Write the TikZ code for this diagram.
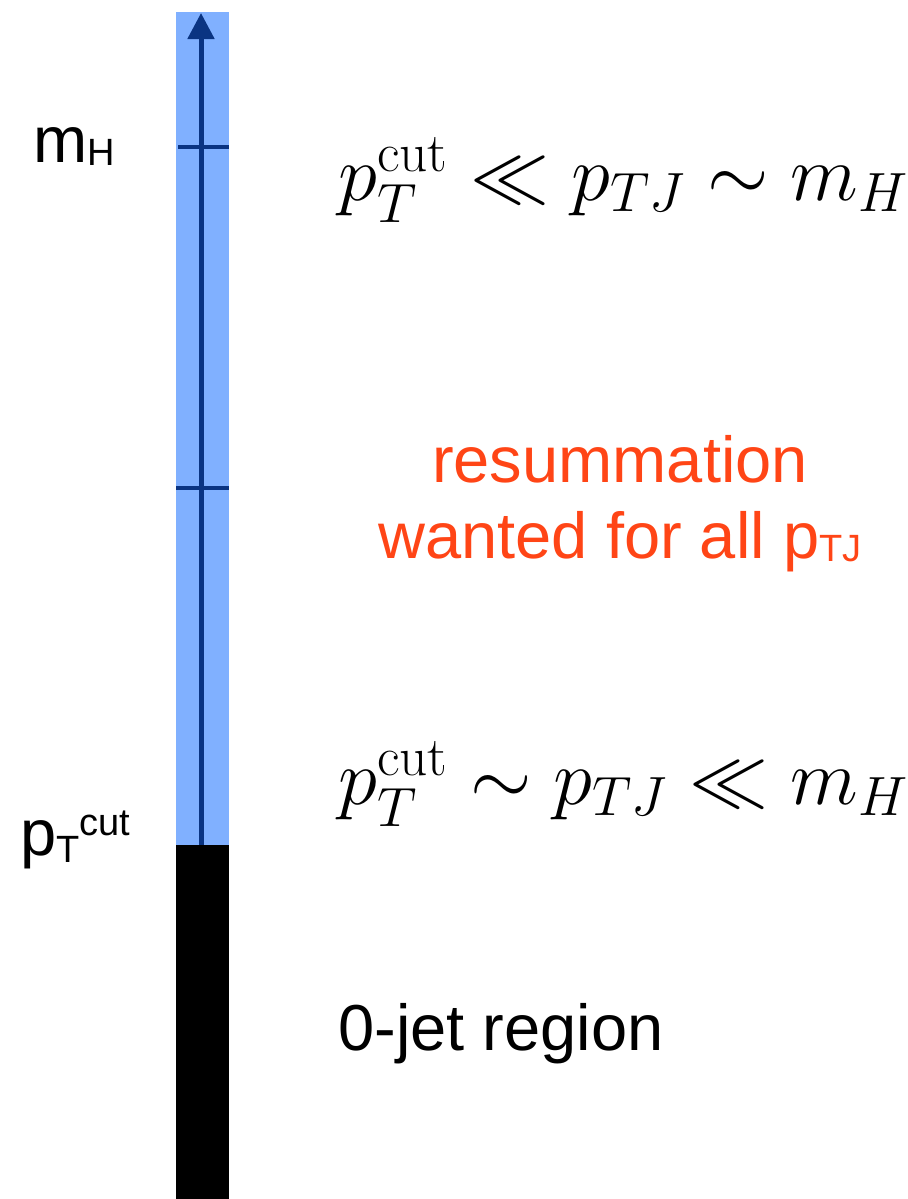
\RequirePackage{fix-cm}
\documentclass[tikz,border=0pt]{standalone}
\usepackage{fontspec}
\usepackage{amsmath,amssymb}
\newfontfamily\arial{Liberation Sans}
\usetikzlibrary{arrows.meta}
\definecolor{barblue}{RGB}{128,176,255}
\definecolor{axisblue}{RGB}{10,52,130}
\definecolor{resred}{RGB}{255,69,22}
\tikzset{
  sanslabel/.style={inner sep=0pt, anchor=base west, font=\arial\fontsize{32.5pt}{38pt}\selectfont},
  mathlabel/.style={inner sep=0pt, anchor=base west, font=\fontsize{39.5pt}{45pt}\selectfont},
  tickline/.style={axisblue, line width=2pt},
}
\begin{document}
\begin{tikzpicture}[x=0.5pt,y=-0.5pt]
\useasboundingbox (0,0) rectangle (908,1199);
\fill[barblue] (176,12) rectangle (229,845);
\fill[black] (176,845) rectangle (229,1199);
\coordinate (bot) at (201,845);
\coordinate (top) at (201,13);
\coordinate (t1l) at (178,147);
\coordinate (t1r) at (229,147);
\coordinate (t2l) at (176,488);
\coordinate (t2r) at (229,488);
\draw[axisblue, line width=2.5pt, -{Triangle[length=13pt,width=13pt]}] (bot) -- (top);
\draw[tickline] (t1l) -- (t1r);
\draw[tickline] (t2l) -- (t2r);
\node[sanslabel] (mH) at (33,162) {m\raisebox{-1.5pt}{\fontsize{19pt}{20pt}\selectfont H}};
\node[sanslabel] (ptcut) at (20,855) {p\raisebox{-3.5pt}{\fontsize{19pt}{20pt}\selectfont T}\raisebox{10pt}{\fontsize{19pt}{20pt}\selectfont cut}};
\node[mathlabel] (e1) at (338,200) {$p_T^{\mathrm{cut}} \ll p_{TJ} \sim m_H$};
\node[mathlabel] (e2) at (338,804) {$p_T^{\mathrm{cut}} \sim p_{TJ} \ll m_H$};
\node[inner sep=0pt, anchor=base, text=resred, align=center, font=\arial\fontsize{32.5pt}{38pt}\selectfont] (res) at (620,558) {resummation\\wanted for all p\raisebox{-1.5pt}{\fontsize{19pt}{20pt}\selectfont TJ}};
\node[sanslabel] (zero) at (338,1050) {0-jet region};
\end{tikzpicture}
\end{document}
